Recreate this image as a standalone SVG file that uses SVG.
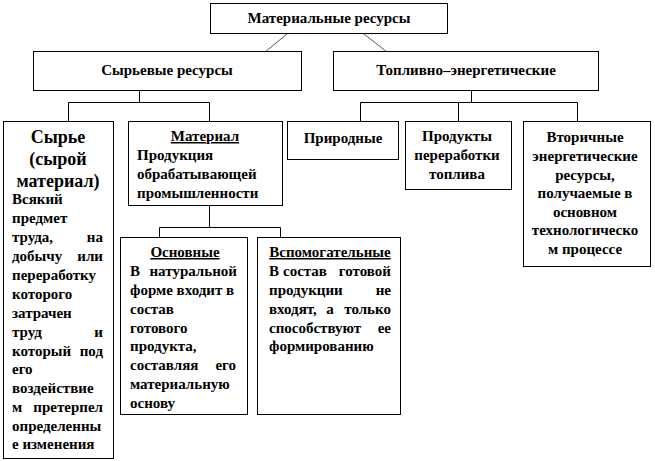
<svg xmlns="http://www.w3.org/2000/svg" width="655" height="461" viewBox="0 0 655 461">
<style>
.box{fill:#fff;stroke:#000;stroke-width:1}
.ln{stroke:#000;stroke-width:1;fill:none}
.dg{stroke:#555;stroke-width:1;fill:none}
text{font-family:"Liberation Serif","Times New Roman",serif;font-weight:bold;font-size:15px;fill:#000}
.c{text-anchor:middle}
.e{text-anchor:end}
.big{font-size:18px}
.u{text-decoration:underline}
</style>
<rect width="655" height="461" fill="#fff"/>
<g id="connectors">
<line class="dg" x1="287" y1="34" x2="265" y2="52"/>
<line class="dg" x1="364" y1="34" x2="387" y2="52"/>
<path class="ln" d="M139.5 90.5V102.5M68.5 121.5V102.5H209.5V121.5"/>
<path class="ln" d="M471.5 90.5V102.5M360.5 121.5V102.5H577.5V121.5M458.5 102.5V121.5"/>
<path class="ln" d="M209.5 205.5V227.5M159.5 237.5V227.5H280.5V237.5"/>
</g>
<g id="n-root">
<rect class="box" x="210.5" y="3.5" width="237" height="30"/>
<text class="c" x="329" y="23">Материальные ресурсы</text>
</g>
<g id="n-raw">
<rect class="box" x="33.5" y="51.5" width="268" height="39"/>
<text class="c" x="167" y="75">Сырьевые ресурсы</text>
</g>
<g id="n-fuel">
<rect class="box" x="333.5" y="51.5" width="265" height="39"/>
<text class="c" x="466" y="75">Топливно–энергетические</text>
</g>
<g id="n-syrye">
<rect class="box" x="3.5" y="121.5" width="110" height="337"/>
<text class="c big" x="58" y="143">Сырье</text>
<text class="c big" x="58" y="165">(сырой</text>
<text class="c big" x="58" y="187">материал)</text>
<text x="12" y="204">Всякий</text>
<text x="12" y="223">предмет</text>
<text x="12" y="242">труда,</text><text class="e" x="103" y="242">на</text>
<text x="12" y="261">добычу</text><text class="e" x="103" y="261">или</text>
<text x="12" y="280">переработку</text>
<text x="12" y="299">которого</text>
<text x="12" y="318">затрачен</text>
<text x="12" y="337">труд</text><text class="e" x="103" y="337">и</text>
<text x="12" y="356">который</text><text class="e" x="103" y="356">под</text>
<text x="12" y="374">его</text>
<text x="12" y="393">воздействие</text>
<text x="12" y="412">м</text><text class="e" x="103" y="412">претерпел</text>
<text x="12" y="431">определенны</text>
<text x="12" y="449">е изменения</text>
</g>
<g id="n-material">
<rect class="box" x="128.5" y="121.5" width="154" height="84"/>
<text class="c u" x="205" y="141">Материал</text>
<text x="137" y="160">Продукция</text>
<text x="137" y="179">обрабатывающей</text>
<text x="137" y="198">промышленности</text>
</g>
<g id="n-natural">
<rect class="box" x="287.5" y="121.5" width="111" height="38"/>
<text class="c" x="343" y="143">Природные</text>
</g>
<g id="n-products">
<rect class="box" x="405.5" y="121.5" width="106" height="68"/>
<text class="c" x="457" y="141">Продукты</text>
<text class="c" x="457" y="160">переработки</text>
<text class="c" x="457" y="179">топлива</text>
</g>
<g id="n-secondary">
<rect class="box" x="523.5" y="121.5" width="127" height="145"/>
<text class="c" x="585" y="142">Вторичные</text>
<text class="c" x="585" y="161">энергетические</text>
<text class="c" x="585" y="180">ресурсы,</text>
<text class="c" x="585" y="198">получаемые в</text>
<text class="c" x="585" y="217">основном</text>
<text class="c" x="585" y="235">технологическо</text>
<text class="c" x="585" y="254">м процессе</text>
</g>
<g id="n-main">
<rect class="box" x="120.5" y="237.5" width="127" height="177"/>
<text class="c u" x="185" y="257">Основные</text>
<text x="130" y="276">В</text><text class="e" x="237" y="276">натуральной</text>
<text x="130" y="295">форме входит в</text>
<text x="130" y="314">состав</text>
<text x="130" y="333">готового</text>
<text x="130" y="351">продукта,</text>
<text x="130" y="370">составляя</text><text class="e" x="236" y="370">его</text>
<text x="130" y="389">материальную</text>
<text x="130" y="408">основу</text>
</g>
<g id="n-aux">
<rect class="box" x="257.5" y="237.5" width="143" height="177"/>
<text class="c u" x="330" y="257">Вспомогательные</text>
<text x="269" y="276">В</text><text x="283" y="276">состав</text><text class="e" x="391" y="276">готовой</text>
<text x="269" y="295">продукции</text><text class="e" x="391" y="295">не</text>
<text x="269" y="314">входят,</text><text class="c" x="330" y="314">а</text><text class="e" x="391" y="314">только</text>
<text x="269" y="333">способствуют</text><text class="e" x="391" y="333">ее</text>
<text x="269" y="351">формированию</text>
</g>
</svg>
